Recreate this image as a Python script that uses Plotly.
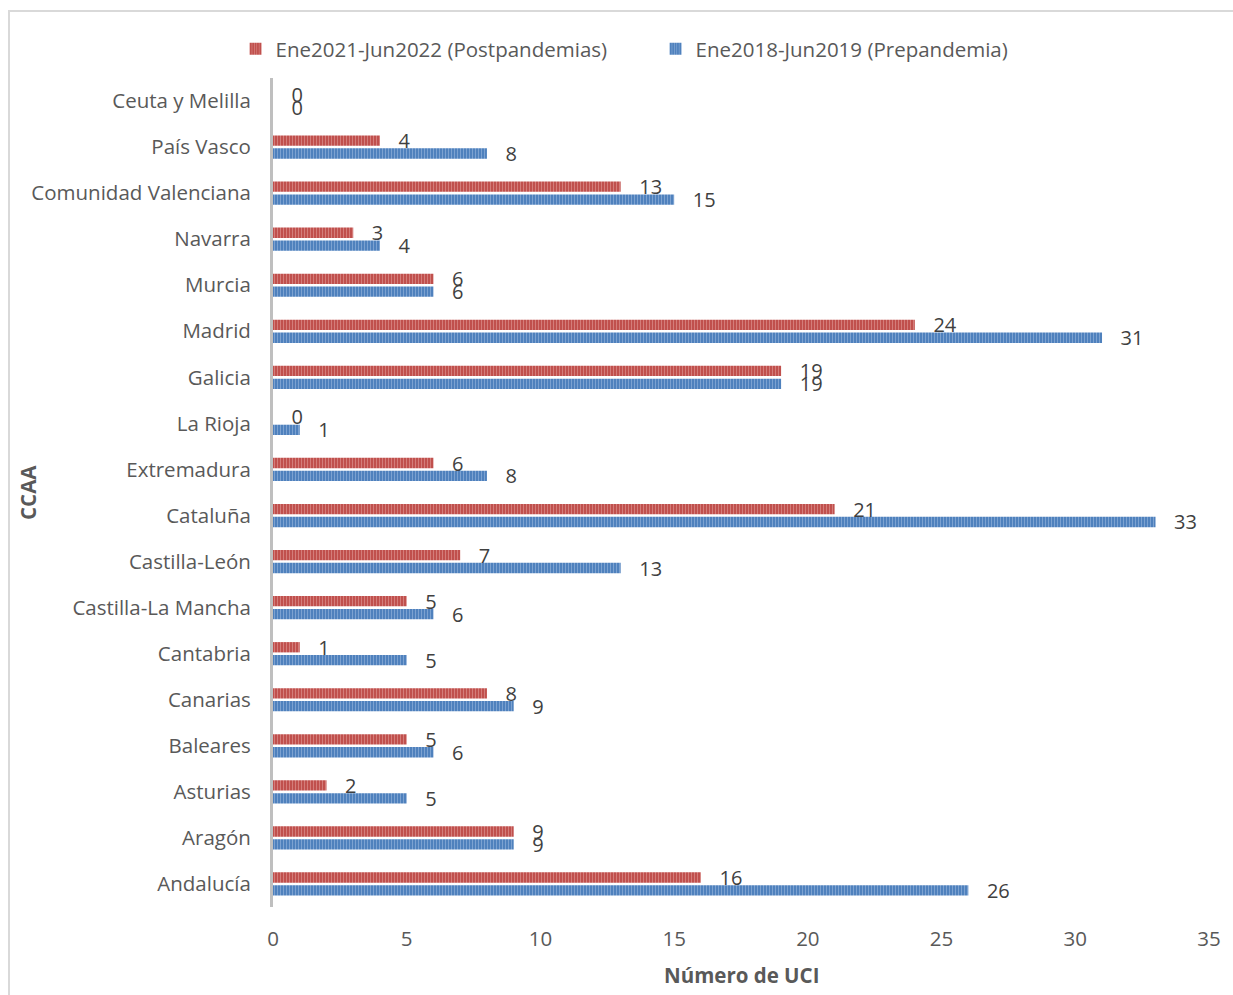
import plotly.graph_objects as go

categories = ["Andalucía", "Aragón", "Asturias", "Baleares", "Canarias", "Cantabria",
              "Castilla-La Mancha", "Castilla-León", "Cataluña", "Extremadura", "La Rioja",
              "Galicia", "Madrid", "Murcia", "Navarra", "Comunidad Valenciana", "País Vasco",
              "Ceuta y Melilla"]
post = [16, 9, 2, 5, 8, 1, 5, 7, 21, 6, 0, 19, 24, 6, 3, 13, 4, 0]
pre = [26, 9, 5, 6, 9, 5, 6, 13, 33, 8, 1, 19, 31, 6, 4, 15, 8, 0]
name_post = "Ene2021-Jun2022 (Postpandemias)"
name_pre = "Ene2018-Jun2019 (Prepandemia)"
x_ticks = [0, 5, 10, 15, 20, 25, 30, 35]

FONT = "Open Sans"
FS = 20.5
RED = "#C0504D"
BLUE = "#4F81BD"
TXT = "#595959"

fig = go.Figure()
fig.add_trace(go.Bar(
    y=categories, x=pre, orientation="h", name=name_pre,
    marker=dict(color=BLUE, line=dict(width=0),
                pattern=dict(shape="|", bgcolor=BLUE, fgcolor="#A9C4E6", size=3, solidity=0.35)),
    text=pre, texttemplate="   %{x}", textposition="outside", cliponaxis=False,
    constraintext="none", textfont=dict(family=FONT, size=20, color="#404040"),
))
fig.add_trace(go.Bar(
    y=categories, x=post, orientation="h", name=name_post,
    marker=dict(color=RED, line=dict(width=0),
                pattern=dict(shape="|", bgcolor=RED, fgcolor="#E8A9A7", size=3, solidity=0.35)),
    text=post, texttemplate="   %{x}", textposition="outside", cliponaxis=False,
    constraintext="none", textfont=dict(family=FONT, size=20, color="#404040"),
))

fig.update_layout(
    width=1233, height=995,
    margin=dict(l=273, r=24, t=78, b=88),
    paper_bgcolor="white", plot_bgcolor="white",
    barmode="group", bargap=0.44, bargroupgap=0.2,
    font=dict(family=FONT, size=FS, color=TXT),
    legend=dict(orientation="h", x=-0.04, xanchor="left", y=1.035, yanchor="middle",
                traceorder="reversed", font=dict(family=FONT, size=FS, color=TXT),
                itemwidth=30, entrywidth=375),
    showlegend=True,
)
fig.update_xaxes(range=[0, 35], tickvals=x_ticks, showgrid=False, zeroline=False,
                 showline=False, ticks="", ticklabelstandoff=17,
                 tickfont=dict(family=FONT, size=FS, color=TXT))
fig.update_yaxes(range=[-0.5, 17.5], showgrid=False, zeroline=False, showline=True,
                 linecolor="#BFBFBF", linewidth=3, ticks="", ticklabelstandoff=15,
                 tickfont=dict(family=FONT, size=FS, color=TXT))

fig.add_annotation(text="<b>Número de UCI</b>", xref="paper", yref="paper",
                   x=0.5, y=-(975 - 907) / 829, xanchor="center", yanchor="middle",
                   showarrow=False, font=dict(family=FONT, size=FS, color=TXT))
fig.add_annotation(text="<b>CCAA</b>", xref="paper", yref="paper",
                   x=(28 - 273) / 936, y=(907 - 493) / 829, xanchor="center", yanchor="middle",
                   textangle=-90, showarrow=False, font=dict(family=FONT, size=FS, color=TXT))

fig.add_shape(type="rect", xref="paper", yref="paper",
              x0=(9 - 273) / 936, x1=1.05, y0=-0.2, y1=1 + (78 - 11) / 829,
              line=dict(color="#D9D9D9", width=2), fillcolor="rgba(0,0,0,0)", layer="below")

fig.write_html("out.html")
